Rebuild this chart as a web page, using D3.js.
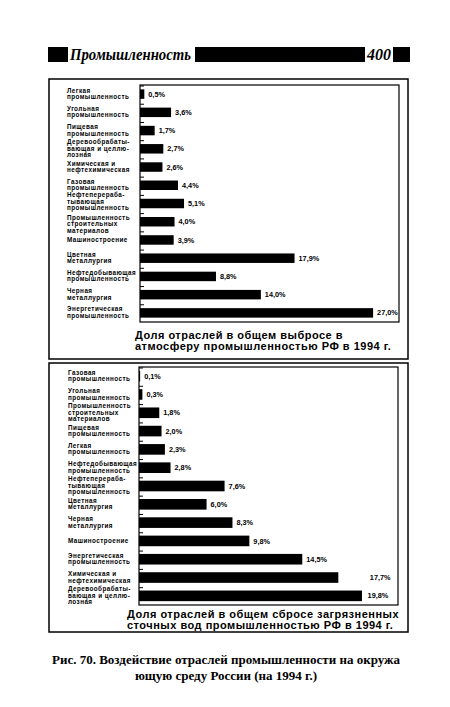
<!DOCTYPE html>
<html><head><meta charset="utf-8">
<script src="https://cdn.jsdelivr.net/npm/d3@7"></script>
<style>body{margin:0;background:#fff}svg{display:block}</style>
</head><body>
<script>
// ---- data ----
const airCategories = [
  ["Легкая","промышленность"],
  ["Угольная","промышленность"],
  ["Пищевая","промышленность"],
  ["Деревообрабаты-","вающая и целлю-","лозная"],
  ["Химическая и","нефтехимическая"],
  ["Газовая","промышленность"],
  ["Нефтеперераба-","тывающая","промышленность"],
  ["Промышленность","строительных","материалов"],
  ["Машиностроение"],
  ["Цветная","металлургия"],
  ["Нефтедобывающая","промышленность"],
  ["Черная","металлургия"],
  ["Энергетическая","промышленность"]
];
const airValues = [0.5, 3.6, 1.7, 2.7, 2.6, 4.4, 5.1, 4.0, 3.9, 17.9, 8.8, 14.0, 27.0];
const airTitle = ["Доля отраслей в общем выбросе в","атмосферу промышленностью РФ в 1994 г."];

const waterCategories = [
  ["Газовая","промышленность"],
  ["Угольная","промышленность"],
  ["Промышленность","строительных","материалов"],
  ["Пищевая","промышленность"],
  ["Легкая","промышленность"],
  ["Нефтедобывающая","промышленность"],
  ["Нефтеперераба-","тывающая","промышленность"],
  ["Цветная","металлургия"],
  ["Черная","металлургия"],
  ["Машиностроение"],
  ["Энергетическая","промышленность"],
  ["Химическая и","нефтехимическая"],
  ["Деревообрабаты-","вающая и целлю-","лозная"]
];
const waterValues = [0.1, 0.3, 1.8, 2.0, 2.3, 2.8, 7.6, 6.0, 8.3, 9.8, 14.5, 17.7, 19.8];
const waterLabelX = [null,null,null,null,null,null,null,null,null,null,null,20.5,20.3];
const waterTitle = ["Доля отраслей в общем сбросе загрязненных","сточных вод промышленностью РФ в 1994 г."];

const headerText = "Промышленность";
const pageNumber = "400";
const caption = ["Рис. 70. Воздействие отраслей промышленности на окружа","ющую среду России (на 1994 г.)"];

// ---- drawing ----
const W = 450, H = 707;
const svg = d3.select("body").append("svg").attr("width", W).attr("height", H);
const fmt = v => d3.format(".1f")(v).replace(".", ",") + "%";
const SANS = "'Liberation Sans', Arial, sans-serif";
const SERIF = "'Liberation Serif', 'Times New Roman', serif";

// header
const hdr = svg.append("g");
hdr.append("rect").attr("x",48).attr("y",47).attr("width",20).attr("height",15).attr("fill","#000");
hdr.append("text").attr("x",70).attr("y",60).attr("font-family",SERIF).attr("font-style","italic")
  .attr("font-weight","bold").attr("font-size",17).attr("textLength",121).attr("lengthAdjust","spacingAndGlyphs")
  .text(headerText);
hdr.append("rect").attr("x",195).attr("y",47).attr("width",170).attr("height",15).attr("fill","#000");
hdr.append("text").attr("x",367).attr("y",60).attr("font-family",SERIF).attr("font-style","italic")
  .attr("font-weight","bold").attr("font-size",16).text(pageNumber);
hdr.append("rect").attr("x",393).attr("y",47).attr("width",17).attr("height",15).attr("fill","#000");

function panel(cfg){
  const g = svg.append("g");
  // outer frame
  g.append("rect").attr("x",49).attr("y",cfg.frameTop).attr("width",359).attr("height",cfg.frameBottom-cfg.frameTop)
    .attr("fill","none").attr("stroke","#000").attr("stroke-width",1.5);
  const x = d3.scaleLinear().domain([0,cfg.max]).range([cfg.left, cfg.right]);
  const y = d3.scaleBand().domain(d3.range(cfg.values.length)).range([cfg.top, cfg.bottom])
    .paddingInner(cfg.pad).paddingOuter(cfg.pad/2);
  // inner box
  g.append("rect").attr("x",cfg.left).attr("y",cfg.top).attr("width",cfg.right-cfg.left).attr("height",cfg.bottom-cfg.top)
    .attr("fill","none").attr("stroke","#000").attr("stroke-width",1.2);
  // ticks between rows
  const step = y.step();
  g.selectAll("line.tick").data(d3.range(cfg.values.length)).join("line")
    .attr("x1",cfg.left).attr("x2",cfg.left+4)
    .attr("y1",d => y(d) - step*cfg.pad/2 + 1).attr("y2",d => y(d) - step*cfg.pad/2 + 1)
    .attr("stroke","#000").attr("stroke-width",1);
  // bars
  g.selectAll("rect.bar").data(cfg.values).join("rect")
    .attr("x",x(0)).attr("y",(d,i)=>y(i)).attr("width",d=>x(d)-x(0)).attr("height",y.bandwidth())
    .attr("fill","#000");
  // value labels
  g.selectAll("text.val").data(cfg.values).join("text")
    .attr("x",(d,i)=> (cfg.labelX && cfg.labelX[i]!=null) ? x(cfg.labelX[i]) : x(d)+4)
    .attr("y",(d,i)=>y(i)+y.bandwidth()/2+2.6)
    .attr("font-family",SANS).attr("font-weight","bold").attr("font-size",7.3).text(fmt);
  // category labels (consecutive 3-line labels are nudged apart)
  const n = cfg.categories.length;
  const shift = d3.range(n).map(() => 0);
  for (let i = 1; i < n; i++) {
    if (cfg.categories[i].length === 3 && cfg.categories[i-1].length === 3) { shift[i-1] -= 1.5; shift[i] += 2.5; }
  }
  cfg.categories.forEach((lines,i)=>{
    const cy = y(i)+y.bandwidth()/2 - 0.5 + shift[i];
    const lh = 6.5;
    const t = g.append("text").attr("font-family",SANS).attr("font-weight","bold").attr("font-size",6.3)
      .attr("letter-spacing",0.45);
    lines.forEach((s,k)=>{
      t.append("tspan").attr("x",cfg.labelLeft).attr("y", cy - (lines.length-1)*lh/2 + k*lh + 2.3).text(s);
    });
  });
  // title
  cfg.title.forEach((s,k)=>{
    g.append("text").attr("x",cfg.titleX).attr("y",cfg.titleY + k*10.5).attr("font-family",SANS)
      .attr("font-weight","bold").attr("font-size",11).attr("letter-spacing",0.5).text(s);
  });
}

panel({frameTop:79, frameBottom:359, left:140, right:399, top:85, bottom:322, max:30, pad:0.48,
  values:airValues, categories:airCategories, labelLeft:67, title:airTitle, titleX:135, titleY:339});
panel({frameTop:363, frameBottom:632, left:139, right:398, top:367, bottom:605, max:23, pad:0.42,
  values:waterValues, categories:waterCategories, labelLeft:68, labelX:waterLabelX, title:waterTitle, titleX:127, titleY:618});

// caption
caption.forEach((s,k)=>{
  svg.append("text").attr("x",226).attr("y",664 + k*16).attr("text-anchor","middle")
    .attr("font-family",SERIF).attr("font-size",13).attr("font-weight","bold").text(s);
});
</script>
</body></html>
